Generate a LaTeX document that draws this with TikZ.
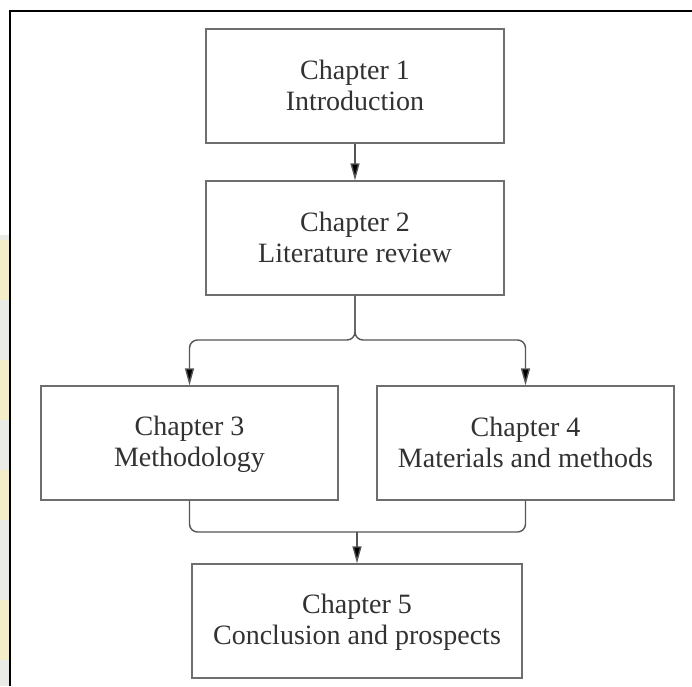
\documentclass[tikz,border=0pt]{standalone}
\usepackage{fontspec}
\setmainfont{Liberation Serif}
\usetikzlibrary{arrows.meta}
\definecolor{boxline}{RGB}{110,110,110}
\definecolor{linkline}{RGB}{85,85,85}
\definecolor{inktext}{RGB}{50,50,50}
\definecolor{stripgray}{RGB}{234,234,230}
\definecolor{stripyellow}{RGB}{250,238,190}
% two-line chapter label with fixed height and depth so every box centres alike
\newcommand{\chaptertitle}[2]{\strut #1\\#2\rule[-3.3pt]{0pt}{1pt}}
\tikzset{
  chapterbox/.style={draw=boxline, line width=1.4pt, fill=white,
    minimum height=114pt, align=center, text=inktext,
    font=\fontsize{28}{31}\selectfont, inner sep=0pt},
  link/.style={draw=linkline, line width=1.4pt, rounded corners=8pt},
  linkarrow/.style={link, -{Triangle[length=17pt,width=9pt,fill=black]}}
}
\begin{document}
\begin{tikzpicture}[x=1pt,y=-1pt]
  \useasboundingbox (0,0) rectangle (692,686);
  \fill[white] (0,0) rectangle (692,686);
  % faint margin strip left of the frame
  \fill[stripgray] (0,235) rectangle (9,686);
  \fill[stripyellow, opacity=0.7] (0,240) rectangle (9,300);
  \fill[stripyellow, opacity=0.7] (0,360) rectangle (9,420);
  \fill[stripyellow, opacity=0.7] (0,470) rectangle (9,520);
  \fill[stripyellow, opacity=0.7] (0,600) rectangle (9,660);
  % page frame
  \draw[black, line width=2.6pt] (10,686) -- (10,11) -- (692,11);

  % chapters
  \node[chapterbox, minimum width=298pt] (c1) at (355,86) {\chaptertitle{Chapter 1}{Introduction}};
  \node[chapterbox, minimum width=298pt] (c2) at (355,238) {\chaptertitle{Chapter 2}{Literature review}};
  \node[chapterbox, minimum width=297pt] (c3) at (189.5,443) {\chaptertitle{Chapter 3}{Methodology}};
  \node[chapterbox, minimum width=297pt] (c4) at (525.5,443) {\chaptertitle{Chapter 4}{Materials and methods}};
  \node[chapterbox, minimum width=330pt] (c5) at (357,621) {\chaptertitle{Chapter 5}{Conclusion and prospects}};

  % branching and merging points
  \coordinate (split) at (355,340);
  \coordinate (merge) at (357,532);

  % connectors
  \draw[linkarrow] (c1.south) -- (c2.north);
  \draw[linkarrow] (c2.south) -- (split) -| (c3.north);
  \draw[linkarrow] (c2.south) -- (split) -| (c4.north);
  \draw[link] (c3.south) |- (merge);
  \draw[link] (c4.south) |- (merge);
  \draw[linkarrow] (merge) -- (c5.north);
\end{tikzpicture}
\end{document}
